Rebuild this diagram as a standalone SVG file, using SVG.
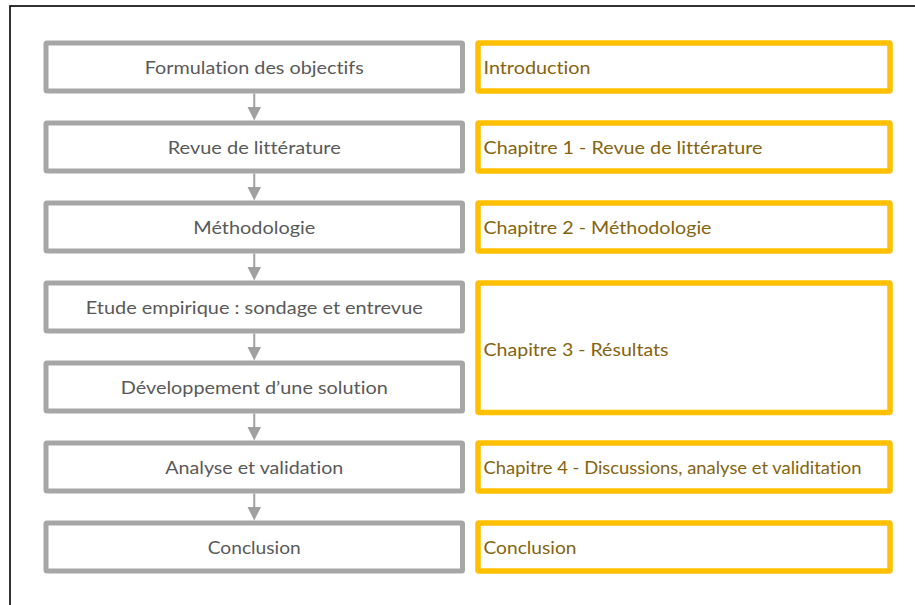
<svg xmlns="http://www.w3.org/2000/svg" width="915" height="605" viewBox="0 0 915 605">
  <style>
    text { font-variant-ligatures: none; font-feature-settings: "liga" 0, "clig" 0; }
    .step rect { fill: #ffffff; stroke: #A6A6A6; stroke-width: 5; }
    .step text { font-family: "Lato", "Liberation Sans", sans-serif; font-size: 18px; fill: #595959; text-anchor: middle; }
    .chap rect { fill: #ffffff; stroke: #FFC000; stroke-width: 5.5; }
    .chap text { font-family: "Lato", "Liberation Sans", sans-serif; font-size: 18px; fill: #846410; }
    .conn line { stroke: #A0A0A0; stroke-width: 2; marker-end: url(#arrow); }
  </style>
  <defs>
    <marker id="arrow" markerUnits="userSpaceOnUse" markerWidth="14" markerHeight="14" refX="3.5" refY="7" orient="auto">
      <path d="M0,0 L14,7 L0,14 z" fill="#A0A0A0"/>
    </marker>
  </defs>
  <rect x="0" y="0" width="915" height="605" fill="#ffffff"/>
  <rect id="frame" x="10" y="6" width="930" height="620" fill="none" stroke="#000000" stroke-width="1.6"/>

  <g id="connectors" class="conn">
    <line x1="254.25" y1="93.5" x2="254.25" y2="110"/>
    <line x1="254.25" y1="173.5" x2="254.25" y2="190"/>
    <line x1="254.25" y1="253.5" x2="254.25" y2="270"/>
    <line x1="254.25" y1="333.5" x2="254.25" y2="350"/>
    <line x1="254.25" y1="413.5" x2="254.25" y2="430"/>
    <line x1="254.25" y1="493.5" x2="254.25" y2="510"/>
  </g>

  <g id="step1" class="step">
    <rect x="46" y="43" width="416.5" height="48" rx="1"/>
    <text x="254.25" y="73.5" textLength="219" lengthAdjust="spacingAndGlyphs">Formulation des objectifs</text>
  </g>
  <g id="step2" class="step">
    <rect x="46" y="123" width="416.5" height="48" rx="1"/>
    <text x="254.25" y="153.5" textLength="173" lengthAdjust="spacingAndGlyphs">Revue de littérature</text>
  </g>
  <g id="step3" class="step">
    <rect x="46" y="203" width="416.5" height="48" rx="1"/>
    <text x="254.25" y="233.5" textLength="122" lengthAdjust="spacingAndGlyphs">Méthodologie</text>
  </g>
  <g id="step4" class="step">
    <rect x="46" y="283" width="416.5" height="48" rx="1"/>
    <text x="254.25" y="313.5" textLength="337" lengthAdjust="spacingAndGlyphs">Etude empirique : sondage et entrevue</text>
  </g>
  <g id="step5" class="step">
    <rect x="46" y="363" width="416.5" height="48" rx="1"/>
    <text x="254.25" y="393.5" textLength="267" lengthAdjust="spacingAndGlyphs">Développement d’une solution</text>
  </g>
  <g id="step6" class="step">
    <rect x="46" y="443" width="416.5" height="48" rx="1"/>
    <text x="254.25" y="473.5" textLength="178" lengthAdjust="spacingAndGlyphs">Analyse et validation</text>
  </g>
  <g id="step7" class="step">
    <rect x="46" y="523" width="416.5" height="48" rx="1"/>
    <text x="254.25" y="553.5" textLength="93" lengthAdjust="spacingAndGlyphs">Conclusion</text>
  </g>

  <g id="chap-intro" class="chap">
    <rect x="478" y="43" width="412" height="48" rx="1"/>
    <text x="483.5" y="73.5" textLength="107" lengthAdjust="spacingAndGlyphs">Introduction</text>
  </g>
  <g id="chap1" class="chap">
    <rect x="478" y="123" width="412" height="48" rx="1"/>
    <text x="483.5" y="153.5" textLength="279" lengthAdjust="spacingAndGlyphs">Chapitre 1 - Revue de littérature</text>
  </g>
  <g id="chap2" class="chap">
    <rect x="478" y="203" width="412" height="48" rx="1"/>
    <text x="483.5" y="233.5" textLength="228" lengthAdjust="spacingAndGlyphs">Chapitre 2 - Méthodologie</text>
  </g>
  <g id="chap3" class="chap">
    <rect x="478" y="283" width="412" height="129.5" rx="1"/>
    <text x="483.5" y="355.5" textLength="185" lengthAdjust="spacingAndGlyphs">Chapitre 3 - Résultats</text>
  </g>
  <g id="chap4" class="chap">
    <rect x="478" y="443" width="412" height="48" rx="1"/>
    <text x="483.5" y="473.5" textLength="378" lengthAdjust="spacingAndGlyphs">Chapitre 4 - Discussions, analyse et validitation</text>
  </g>
  <g id="chap-conclusion" class="chap">
    <rect x="478" y="523" width="412" height="48" rx="1"/>
    <text x="483.5" y="553.5" textLength="93" lengthAdjust="spacingAndGlyphs">Conclusion</text>
  </g>
</svg>
